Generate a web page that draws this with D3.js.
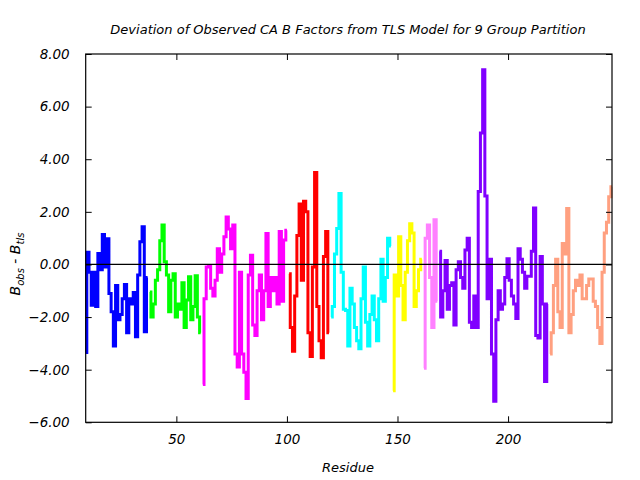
<!DOCTYPE html>
<html><head><meta charset="utf-8">
<script src="https://cdn.jsdelivr.net/npm/d3@7"></script>
<style>body{margin:0;background:#fff}svg{display:block}text{font-family:"DejaVu Sans",sans-serif;font-style:italic}</style>
</head><body><svg id="c" width="640" height="480"></svg>
<script>
const title = "Deviation of Observed CA B Factors from TLS Model for 9 Group Partition";
const xLabel = "Residue";
const yTicks = [-6, -4, -2, 0, 2, 4, 6, 8];
const xTicks = [50, 100, 150, 200];
const xDomain = [9, 247];
const yDomain = [-6, 8];

const groupStarts = [9, 38, 62, 101, 120, 148, 162, 169, 219];
const groupColors = ["#0000ff", "#00ff00", "#ff00ff", "#ff0000", "#00ffff", "#ffff00", "#ff80ff", "#8000ff", "#ffa080"];

const g1 = [-3.35, 0.46, -0.3, -1.55, -0.3, -1.6, 0.42, -0.2, 1.14, -0.1, 0.98, -1.1, -1.8, -3.1, -0.8, -2.1, -1.9, -1.3, -0.76, -2.6, -1.3, -1.5, -1.07, -2.75, -0.4, 0.86, 1.43, -2.56, -0.5];
const g2 = [-1.05, -2.0, -1.5, -0.6, -0.2, 0.9, 1.5, 0.1, -0.4, -1.8, -0.6, -0.35, -2.0, -1.5, -1.7, -0.7, -2.4, -1.35, -0.47, -2.1, -1.6, -0.43, -2.0, -2.6];
const g3 = [-4.56, -1.3, -0.1, -0.05, -0.9, -1.2, -0.6, 0.6, -0.3, 0.4, 1.05, 1.8, 1.35, 0.6, 1.5, -3.4, -3.9, -0.3, -3.4, -4.1, -5.1, -0.4, 0.35, -2.3, -2.7, -1.0, -0.4, -2.1, -1.0, 1.18, -1.6, -0.5, -1.0, -0.5, -1.5, 1.25, -1.4, 0.93, 1.3];
const g4 = [-0.35, -2.4, -3.3, -1.2, 1.1, 2.3, -0.6, 2.4, 2.0, -2.6, -3.5, -0.1, 3.5, -1.6, -2.9, -3.55, 0.3, 1.25, -2.6];
const g5 = [-2.0, -1.6, 0.4, 1.37, 2.7, -0.3, -1.7, -1.75, -3.1, -0.9, -1.5, -2.4, -2.9, -3.2, -1.3, -0.1, -2.2, -3.1, -1.9, -1.2, -2.1, -2.9, -1.3, 0.2, -1.4, -0.5, 1.0, 0.7];
const g6 = [-4.8, -0.4, -1.2, 1.05, -0.8, -2.1, -0.3, 0.9, 1.55, 1.2, -1.6, -1.0, -0.2, 0.2];
const g7 = [-3.95, 1.0, 1.5, -0.5, -2.4, 1.7, -1.4];
const g8 = [0.5, -2.0, -1.0, 0.15, -1.7, -0.8, -0.7, -2.3, -0.2, 0.1, -0.5, -0.9, 0.55, 1.0, -2.2, -2.4, -1.2, -2.4, 2.77, 5.0, 7.4, 2.6, -1.3, 0.2, -3.4, -5.2, -2.1, -1.0, -1.7, -1.5, -0.5, 0.22, -0.6, -1.2, -1.5, -2.05, 0.6, 0.2, -0.3, -0.9, -0.45, -0.45, 0.5, 2.15, -2.7, -2.8, 0.3, -1.5, -4.45, -1.5];
const g9 = [-3.4, -2.6, -0.8, 0.2, -1.8, -2.4, 0.8, 0.4, 2.13, -2.6, -1.9, -1.0, -0.6, -0.8, -0.4, -1.3, -1.3, -0.8, -0.55, -0.55, -1.4, -1.6, -2.4, -3.0, -0.3, 1.2, 1.6, 2.57, 2.95];
const groups = [g1, g2, g3, g4, g5, g6, g7, g8, g9];

const L = 85.7, R = 612, T = 54, B = 422.3;
const svg = d3.select("#c");
const x = d3.scaleLinear().domain(xDomain).range([L, R]);
const y = d3.scaleLinear().domain(yDomain).range([B, T]);

const line = d3.line().curve(d3.curveStep).x(d => x(d[0])).y(d => y(d[1]));
groups.forEach((vals, gi) => {
  const pts = vals.map((v, i) => [groupStarts[gi] + i, v]);
  svg.append("path").attr("d", line(pts)).attr("fill", "none")
    .attr("stroke", groupColors[gi]).attr("stroke-width", 3).attr("stroke-linejoin", "miter");
});

// zero line
svg.append("line").attr("x1", L).attr("x2", R).attr("y1", y(0)).attr("y2", y(0))
  .attr("stroke", "#000").attr("stroke-width", 1.2);

// axes with inward ticks, mirrored
const tk = 6;
svg.append("g").attr("transform", `translate(0,${B})`)
  .call(d3.axisBottom(x).tickValues(xTicks).tickSize(-tk).tickPadding(12).tickFormat(d3.format("d")))
  .call(g => g.select(".domain").remove());
svg.append("g").attr("transform", `translate(0,${T})`)
  .call(d3.axisTop(x).tickValues(xTicks).tickSize(-tk).tickFormat(""))
  .call(g => g.select(".domain").remove());
svg.append("g").attr("transform", `translate(${L},0)`)
  .call(d3.axisLeft(y).tickValues(yTicks).tickSize(-tk).tickPadding(16).tickFormat(d3.format(".2f")))
  .call(g => g.select(".domain").remove());
svg.append("g").attr("transform", `translate(${R},0)`)
  .call(d3.axisRight(y).tickValues(yTicks).tickSize(-tk).tickFormat(""))
  .call(g => g.select(".domain").remove());
svg.selectAll(".tick line").attr("stroke", "#000");
svg.selectAll(".tick text").attr("font-size", 13.5).attr("fill", "#000")
  .attr("font-family", "DejaVu Sans").attr("font-style", "italic");

svg.append("rect").attr("x", L).attr("y", T).attr("width", R - L).attr("height", B - T)
  .attr("fill", "none").attr("stroke", "#000").attr("stroke-width", 1.2);

svg.append("text").attr("x", 348).attr("y", 34).attr("text-anchor", "middle")
  .attr("font-size", 13).text(title);
svg.append("text").attr("x", 348).attr("y", 472).attr("text-anchor", "middle")
  .attr("font-size", 13).text(xLabel);

const yl = svg.append("text").attr("transform", "translate(20,264) rotate(-90)")
  .attr("text-anchor", "middle").attr("font-size", 14);
yl.append("tspan").text("B");
yl.append("tspan").attr("font-size", 10).attr("dy", 4).text("obs");
yl.append("tspan").attr("dy", -4).text("  -  B");
yl.append("tspan").attr("font-size", 10).attr("dy", 4).text("tls");
</script></body></html>
